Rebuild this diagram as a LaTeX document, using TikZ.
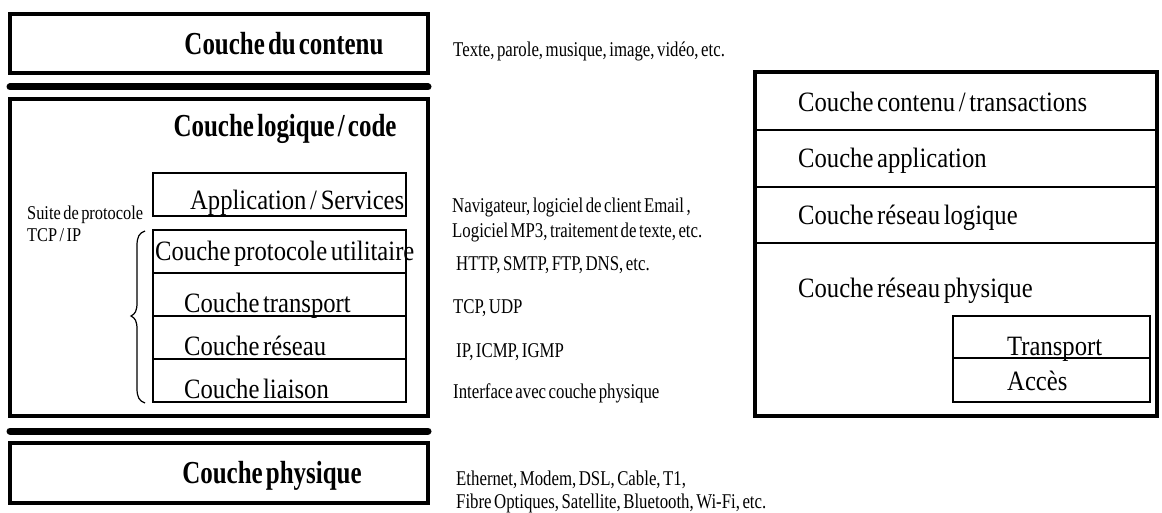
\documentclass[tikz,border=0pt]{standalone}
\usepackage{fontspec}
\setmainfont{Liberation Serif}[FakeStretch=0.88,WordSpace=0.6]
\newfontfamily\boldc{Liberation Serif}[FakeStretch=0.78,WordSpace=0.5,BoldFont={Liberation Serif Bold}]
\newfontfamily\smallc{Liberation Serif}[FakeStretch=0.80,WordSpace=0.6]
\newfontfamily\sidec{Liberation Serif}[FakeStretch=0.84,WordSpace=0.6]
\begin{document}
\begin{tikzpicture}[x=1pt,y=-1pt,
  outer/.style={line width=4pt},
  inner/.style={line width=1.6pt},
  sep/.style={line width=7pt,line cap=round},
  title/.style={anchor=base,inner sep=0pt,font=\boldc\bfseries\fontsize{32}{32}\selectfont},
  layer/.style={anchor=base west,inner sep=0pt,font=\fontsize{28}{28}\selectfont},
  desc/.style={anchor=base west,inner sep=0pt,font=\smallc\fontsize{21}{23}\selectfont},
  side/.style={anchor=base west,inner sep=0pt,font=\sidec\fontsize{19.5}{21}\selectfont}]
\useasboundingbox (0,0) rectangle (1162,513);
% left stack
\draw[outer] (10,14) rectangle (428,73);
\draw[sep] (10,87) -- (428,87);
\draw[outer] (10,99) rectangle (428,416);
\draw[sep] (10,431) -- (428,431);
\draw[outer] (10,443) rectangle (428,503);
\node[title] (contenu) at (284,55) {Couche du contenu};
\node[title] (logique) at (285,137) {Couche logique / code};
\node[title] (physique) at (272,483) {Couche physique};
% inner TCP/IP boxes
\draw[inner] (153,173) rectangle (406,216);
\draw[inner] (153,230) rectangle (406,402);
\draw[inner] (153,273) -- (406,273);
\draw[inner] (153,316) -- (406,316);
\draw[inner] (153,359) -- (406,359);
\node[layer] (app) at (190,210) {Application / Services};
\node[layer] (util) at (155,260) {Couche protocole utilitaire};
\node[layer] (transp) at (184,312) {Couche transport};
\node[layer] (reseau) at (184,355) {Couche réseau};
\node[layer] (liaison) at (184,398) {Couche liaison};
% brace
\draw[line width=1.2pt] (145,231) .. controls (139,233) and (137,237) .. (137,246)
  -- (137,303) .. controls (137,311) and (135,314) .. (131,316)
  .. controls (135,318) and (137,321) .. (137,329)
  -- (137,388) .. controls (137,397) and (139,401) .. (145,403);
\node[side] (suite) at (27,220) {Suite de protocole};
\node[side] (tcpip) at (27,242) {TCP / IP};
% descriptions
\node[desc] (d1) at (453,57) {Texte, parole, musique, image, vidéo, etc.};
\node[desc] (d2) at (452,213) {Navigateur, logiciel de client Email ,};
\node[desc] (d3) at (452,238) {Logiciel MP3, traitement de texte, etc.};
\node[desc] (d4) at (456,270) {HTTP, SMTP, FTP, DNS, etc.};
\node[desc] (d5) at (453,313) {TCP, UDP};
\node[desc] (d6) at (456,357) {IP, ICMP, IGMP};
\node[desc] (d7) at (453,398) {Interface avec couche physique};
\node[desc] (d8) at (456,485) {Ethernet, Modem, DSL, Cable, T1,};
\node[desc] (d9) at (456,508) {Fibre Optiques, Satellite, Bluetooth, Wi-Fi, etc.};
% right model
\draw[line width=3.5pt] (755,72) rectangle (1157,416);
\draw[inner] (755,130) -- (1157,130);
\draw[inner] (755,187) -- (1157,187);
\draw[inner] (755,243) -- (1157,243);
\node[layer] (r1) at (798,112) {Couche contenu / transactions};
\node[layer] (r2) at (798,168) {Couche application};
\node[layer] (r3) at (798,225) {Couche réseau logique};
\node[layer] (r4) at (798,297) {Couche réseau physique};
\draw[inner] (953,316) rectangle (1150,402);
\draw[inner] (953,358) -- (1150,358);
\node[layer] (r5) at (1007,355) {Transport};
\node[layer] (r6) at (1007,390) {Accès};
\end{tikzpicture}
\end{document}
